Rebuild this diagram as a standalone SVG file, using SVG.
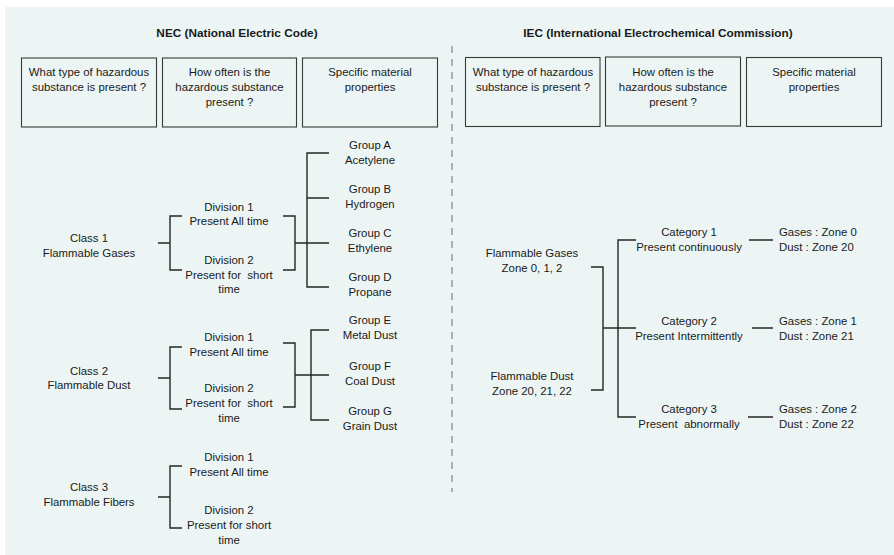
<svg xmlns="http://www.w3.org/2000/svg" width="894" height="555" viewBox="0 0 894 555">
<style>
text{font-family:"Liberation Sans",Arial,sans-serif;font-size:11.4px;fill:#1a1a1a;text-anchor:middle;white-space:pre}
.t{font-weight:bold;font-size:11.8px}
.l{text-anchor:start}
.box{fill:none;stroke:#3a3a3a;stroke-width:1.1}
.c path{fill:none;stroke:#262626;stroke-width:1.4}
.dash{stroke:#808080;stroke-width:1.2;stroke-dasharray:7 6}
</style>
<rect x="0" y="0" width="894" height="555" fill="#ffffff"/>
<rect x="5" y="7" width="889" height="548" fill="#ecf5f4"/>
<line class="dash" x1="452" y1="46" x2="452" y2="492"/>
<g id="nec-title"><text class="t" x="237" y="37">NEC (National Electric Code)</text></g>
<g id="iec-title"><text class="t" x="658" y="37">IEC (International Electrochemical Commission)</text></g>
<g id="nec-h1"><rect class="box" x="21.5" y="58" width="135" height="69"/><text x="89" y="76">What type of hazardous</text><text x="89" y="91">substance is present ?</text></g>
<g id="nec-h2"><rect class="box" x="162.5" y="58" width="134" height="69"/><text x="229.5" y="76">How often is the</text><text x="229.5" y="91">hazardous substance</text><text x="229.5" y="106">present ?</text></g>
<g id="nec-h3"><rect class="box" x="302.5" y="58" width="135" height="69"/><text x="370" y="76">Specific material</text><text x="370" y="91">properties</text></g>
<g id="iec-h1"><rect class="box" x="465.5" y="57.5" width="134.5" height="69"/><text x="533" y="76">What type of hazardous</text><text x="533" y="91">substance is present ?</text></g>
<g id="iec-h2"><rect class="box" x="605.5" y="57" width="135" height="69"/><text x="673" y="76">How often is the</text><text x="673" y="91">hazardous substance</text><text x="673" y="106">present ?</text></g>
<g id="iec-h3"><rect class="box" x="746.5" y="57.5" width="135" height="69"/><text x="814" y="76">Specific material</text><text x="814" y="91">properties</text></g>
<g id="class1"><text x="89" y="242">Class 1</text><text x="89" y="257">Flammable Gases</text></g>
<g id="c1-div1"><text x="229" y="211">Division 1</text><text x="229" y="225">Present All time</text></g>
<g id="c1-div2"><text x="229" y="264">Division 2</text><text x="229" y="279">Present for  short</text><text x="229" y="293">time</text></g>
<g id="groupA"><text x="370" y="149">Group A</text><text x="370" y="164">Acetylene</text></g>
<g id="groupB"><text x="370" y="193">Group B</text><text x="370" y="208">Hydrogen</text></g>
<g id="groupC"><text x="370" y="237">Group C</text><text x="370" y="252">Ethylene</text></g>
<g id="groupD"><text x="370" y="281">Group D</text><text x="370" y="296">Propane</text></g>
<g id="class2"><text x="89" y="375">Class 2</text><text x="89" y="389">Flammable Dust</text></g>
<g id="c2-div1"><text x="229" y="341">Division 1</text><text x="229" y="356">Present All time</text></g>
<g id="c2-div2"><text x="229" y="392">Division 2</text><text x="229" y="407">Present for  short</text><text x="229" y="422">time</text></g>
<g id="groupE"><text x="370" y="324">Group E</text><text x="370" y="339">Metal Dust</text></g>
<g id="groupF"><text x="370" y="370">Group F</text><text x="370" y="385">Coal Dust</text></g>
<g id="groupG"><text x="370" y="415">Group G</text><text x="370" y="430">Grain Dust</text></g>
<g id="class3"><text x="89" y="491">Class 3</text><text x="89" y="506">Flammable Fibers</text></g>
<g id="c3-div1"><text x="229" y="461">Division 1</text><text x="229" y="476">Present All time</text></g>
<g id="c3-div2"><text x="229" y="514">Division 2</text><text x="229" y="529">Present for short</text><text x="229" y="544">time</text></g>
<g id="iec-gases"><text x="532" y="257">Flammable Gases</text><text x="532" y="272">Zone 0, 1, 2</text></g>
<g id="iec-dust"><text x="532" y="380">Flammable Dust</text><text x="532" y="395">Zone 20, 21, 22</text></g>
<g id="cat1"><text x="689" y="236">Category 1</text><text x="689" y="251">Present continuously</text></g>
<g id="cat2"><text x="689" y="325">Category 2</text><text x="689" y="340">Present Intermittently</text></g>
<g id="cat3"><text x="689" y="413">Category 3</text><text x="689" y="428">Present  abnormally</text></g>
<g id="zone1"><text class="l" x="779" y="236">Gases : Zone 0</text><text class="l" x="779" y="251">Dust : Zone 20</text></g>
<g id="zone2"><text class="l" x="779" y="325">Gases : Zone 1</text><text class="l" x="779" y="340">Dust : Zone 21</text></g>
<g id="zone3"><text class="l" x="779" y="413">Gases : Zone 2</text><text class="l" x="779" y="428">Dust : Zone 22</text></g>
<g id="connectors" class="c">
<path d="M158,243H170M182,216H170V270H182"/>
<path d="M283,216H295V270H283M295,243H329"/>
<path d="M329,153H307V287H329M307,198H329"/>
<path d="M158,378H170M182,347H170V409H182"/>
<path d="M283,343H295V407H283M295,375H329"/>
<path d="M329,330H311V420H329"/>
<path d="M158,497H170M182,466H170V528H182"/>
<path d="M591,267H603V390H591M603,328H636"/>
<path d="M636,240H618V417H636"/>
<path d="M749,240H773M752,328H773M748,417H773"/>
</g>
</svg>
